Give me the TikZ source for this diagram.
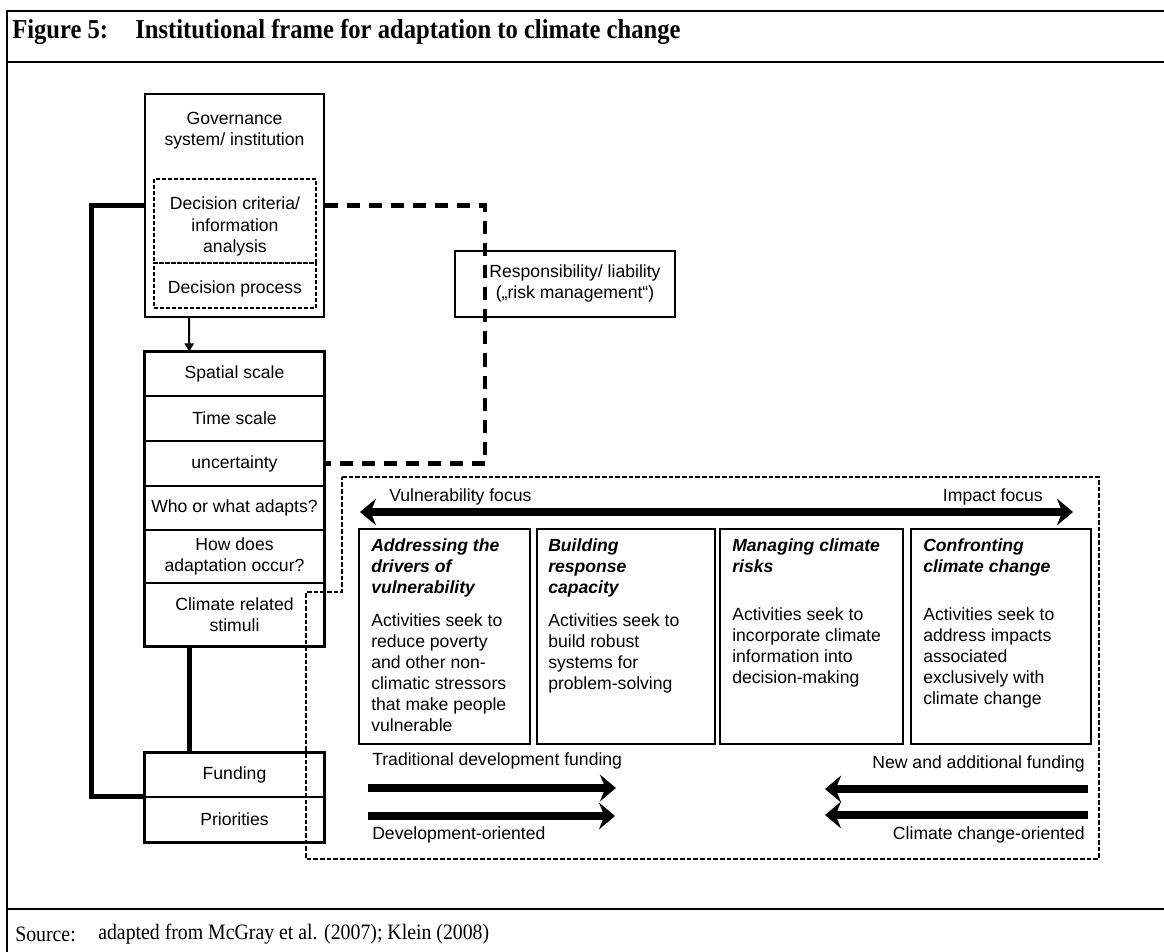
\documentclass[tikz,border=0pt]{standalone}
\usepackage{fontspec}
\setmainfont{Liberation Serif}[FakeStretch=0.9]
\newfontfamily\arialf{Liberation Sans}
\usetikzlibrary{arrows.meta,positioning}
\newcommand{\dgfont}{\arialf\fontsize{13.2}{15.8}\selectfont}
\newcommand{\titlefont}{\rmfamily\bfseries\fontsize{20.5}{24}\selectfont}
\newcommand{\srcfont}{\rmfamily\fontsize{16.5}{19}\selectfont}
\begin{document}
\begin{tikzpicture}[x=0.75pt,y=-0.75pt,
    every node/.style={font=\dgfont,inner sep=0pt},
    box/.style={draw,line width=1.5pt},
    cell/.style={draw,line width=1pt,minimum width=134.25pt,align=center},
    innerdash/.style={draw,line width=1pt,dash pattern=on 3pt off 1.5pt},
    regiondash/.style={line width=1pt,dash pattern=on 3.5pt off 1.5pt},
    thickline/.style={line width=3.75pt},
    thickdash/.style={line width=3.5pt,dash pattern=on 9.75pt off 6.75pt},
    thinarrow/.style={line width=1.5pt,-{Triangle[length=6pt,width=7pt]}},
    bigarrow/.style={line width=6pt,-{Stealth[length=12pt,width=20pt,inset=4pt]}},
    focusarrow/.style={line width=6pt,{Stealth[length=12pt,width=20pt,inset=4pt]}-{Stealth[length=12pt,width=20pt,inset=4pt]}},
    ttl/.style={font=\dgfont\bfseries\itshape,align=left,anchor=north west},
    body/.style={align=left,anchor=north west}]
  \useasboundingbox (0,0) rectangle (1164,952);
  \draw[line width=2pt] (7,952) -- (7,11) -- (1164,11);
  \draw[line width=2pt] (7,62) -- (1164,62);
  \draw[line width=2pt] (7,909) -- (1164,909);
  \node[anchor=west,font=\titlefont] (fig) at (12,32) {Figure 5:};
  \node[anchor=west,font=\titlefont] (figtitle) at (135,32) {Institutional frame for adaptation to climate change};
  \node[anchor=west,font=\srcfont] (src) at (15,934) {Source:};
  \node[anchor=west,font=\srcfont] (srctxt) at (98,934) {adapted from McGray et al. (2007); Klein (2008)};

  \node[box,minimum width=134.25pt,minimum height=167.25pt] (gov) at (234.5,205.5) {};
  \node[align=center] (govtxt) at (234.5,130.5) {Governance\\system/ institution};
  \node[innerdash,minimum width=121.5pt,minimum height=63pt] (crit) at (235,221) {};
  \node[align=center] (crittxt) at (235,226.5) {Decision criteria/\\information\\analysis};
  \node[innerdash,minimum width=121.5pt,minimum height=33.75pt] (proc) at (235,285.5) {};
  \node (proctxt) at (235,289) {Decision process};

  \node[cell,minimum height=33pt] (spatial) at (234.5,374) {Spatial scale};
  \node[cell,minimum height=33.75pt] (time) at (234.5,418.5) {Time scale};
  \node[cell,minimum height=33.75pt] (uncert) at (234.5,463.5) {uncertainty};
  \node[cell,minimum height=33pt] (who) at (234.5,508) {Who or what adapts?};
  \node[cell,minimum height=39.75pt] (how) at (234.5,556.5) {How does\\adaptation occur?};
  \node[cell,minimum height=47.25pt] (stimuli) at (234.5,614.5) {Climate related\\stimuli};
  \draw[box] (spatial.north west) rectangle (stimuli.south east);

  \node[cell,minimum height=33pt] (funding) at (234.5,775) {Funding};
  \node[cell,minimum height=33.75pt] (prio) at (234.5,819.5) {Priorities};
  \draw[box] (funding.north west) rectangle (prio.south east);

  \node[box,minimum width=165pt,minimum height=49.5pt] (resp) at (565,284) {};
  \node[align=center] (resptxt) at (575,283) {Responsibility/ liability\\(„risk management“)};

  \draw[thinarrow] ([xshift=33.75pt]gov.south west) -- ([xshift=33.75pt]spatial.north west);
  \draw[thickline] ([xshift=33.75pt]stimuli.south west) -- ([xshift=33.75pt]funding.north west);
  \draw[thickline] (gov.west) -- ++(-53,0) |- (prio.north west);
  \draw[thickdash] (gov.east) -- ++(160,0) |- (uncert.east);

  \draw[regiondash] (342,477) -- (1099,477) -- (1099,859) -- (306,859) -- (306,592) -- (342,592) -- cycle;

  \node[anchor=west] (vulnlbl) at (389,497) {Vulnerability focus};
  \node[anchor=east] (implbl) at (1043,497) {Impact focus};
  \coordinate (vfoc) at (360,512);
  \coordinate (ifoc) at (1073,512);
  \draw[focusarrow] (vfoc) -- (ifoc);

  \node[box,minimum width=128.25pt,minimum height=161.25pt] (drivers) at (444.5,636.5) {};
  \node[box,minimum width=133.5pt,minimum height=161.25pt] (capacity) at (626,636.5) {};
  \node[box,minimum width=137.25pt,minimum height=161.25pt] (risks) at (811.5,636.5) {};
  \node[box,minimum width=135pt,minimum height=161.25pt] (confront) at (1001,636.5) {};

  \node[ttl] (drivttl) at ([shift={(9.75pt,-7.5pt)}]drivers.north west) {Addressing the\\drivers of\\vulnerability};
  \node[body] (drivbody) at ([shift={(9.75pt,-63.75pt)}]drivers.north west) {Activities seek to\\reduce poverty\\and other non-\\climatic stressors\\that make people\\vulnerable};
  \node[ttl] (capttl) at ([shift={(9pt,-7.5pt)}]capacity.north west) {Building\\response\\capacity};
  \node[body] (capbody) at ([shift={(9pt,-63.75pt)}]capacity.north west) {Activities seek to\\build robust\\systems for\\problem-solving};
  \node[ttl] (riskttl) at ([shift={(9.75pt,-7.5pt)}]risks.north west) {Managing climate\\risks};
  \node[body] (riskbody) at ([shift={(9.75pt,-59.25pt)}]risks.north west) {Activities seek to\\incorporate climate\\information into\\decision-making};
  \node[ttl] (confttl) at ([shift={(9.75pt,-7.5pt)}]confront.north west) {Confronting\\climate change};
  \node[body] (confbody) at ([shift={(9.75pt,-59.25pt)}]confront.north west) {Activities seek to\\address impacts\\associated\\exclusively with\\climate change};

  \node[anchor=west] (tradlbl) at (372,761) {Traditional development funding};
  \node[anchor=west] (devlbl) at (372,835) {Development-oriented};
  \node[anchor=east] (newlbl) at (1085,764) {New and additional funding};
  \node[anchor=east] (climlbl) at (1085,835) {Climate change-oriented};
  \coordinate (tradtail) at (368,788);
  \coordinate (tradtip) at (616,788);
  \coordinate (devtail) at (368,816);
  \coordinate (devtip) at (615,816);
  \coordinate (newtail) at (1088,789);
  \coordinate (newtip) at (825,789);
  \coordinate (climtail) at (1088,815);
  \coordinate (climtip) at (825,815);
  \draw[bigarrow] (tradtail) -- (tradtip);
  \draw[bigarrow] (devtail) -- (devtip);
  \draw[bigarrow] (newtail) -- (newtip);
  \draw[bigarrow] (climtail) -- (climtip);
\end{tikzpicture}
\end{document}
